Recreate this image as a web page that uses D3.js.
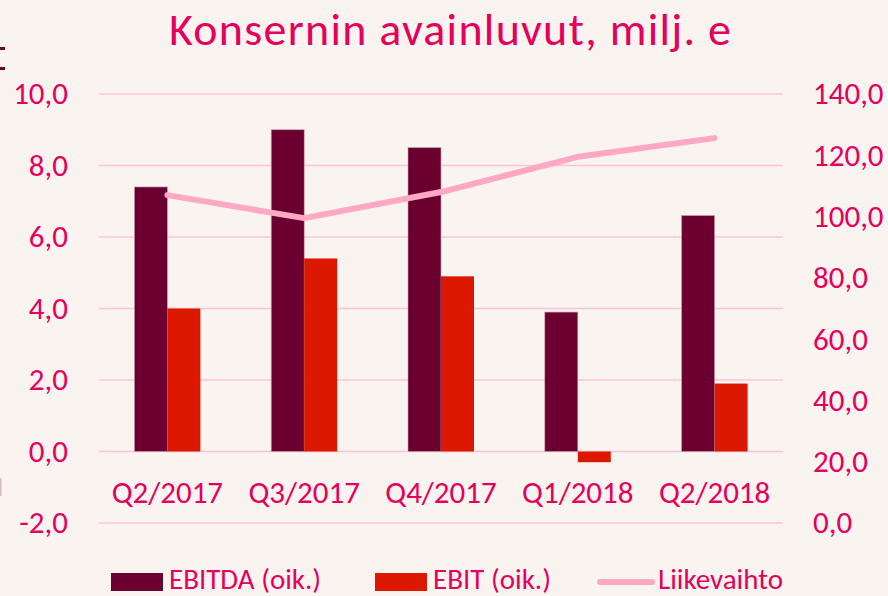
<!DOCTYPE html>
<html>
<head>
<meta charset="utf-8">
<script src="https://cdn.jsdelivr.net/npm/d3@7"></script>
<style>
  body { margin: 0; background: #f9f4ef; }
  svg { display: block; font-family: Carlito, Lato, "Liberation Sans", sans-serif; }
</style>
</head>
<body>
<div id="chart"></div>
<script>
// data
let quarters = ["Q2/2017", "Q3/2017", "Q4/2017", "Q1/2018", "Q2/2018"];
let ebitda = [7.4, 9.0, 8.5, 3.9, 6.6];
let ebit = [4.0, 5.4, 4.9, -0.3, 1.9];
let liikevaihto = [107.0, 99.5, 108.0, 119.5, 125.6];
let leftTicks = [-2, 0, 2, 4, 6, 8, 10];
let rightTicks = [0, 20, 40, 60, 80, 100, 120, 140];

let pink = "#e5005b";
let colEbitda = "#6b0030";
let colEbit = "#dd1800";
let colLine = "#ffa8c6";

let W = 888, H = 596;
let margin = {top: 94, right: 105, bottom: 73, left: 99};
let width = W - margin.left - margin.right;
let height = H - margin.top - margin.bottom;

let svg = d3.select("#chart").append("svg")
    .attr("width", W)
    .attr("height", H);

svg.append("rect").attr("width", W).attr("height", H).attr("fill", "#f9f4ef");

// leftover slide bits cut off at the left edge
svg.append("rect").attr("x", 0).attr("y", 47).attr("width", 5).attr("height", 3).attr("fill", colEbitda);
svg.append("rect").attr("x", 0).attr("y", 67).attr("width", 5).attr("height", 3).attr("fill", colEbitda);
svg.append("rect")
    .attr("x", 0).attr("y", 478)
    .attr("width", 1.5).attr("height", 18)
    .attr("fill", "#d9bcc4");

svg.append("text")
    .attr("x", W / 2 + 6).attr("y", 45)
    .attr("text-anchor", "middle")
    .attr("font-size", 46)
    .attr("textLength", 562)
    .attr("lengthAdjust", "spacing")
    .attr("fill", pink)
    .text("Konsernin avainluvut, milj. e");

let g = svg.append("g")
    .attr("transform", `translate(${margin.left},${margin.top})`);

let x = d3.scaleBand().domain(quarters).range([0, width]);
let xInner = d3.scaleBand().domain(["ebitda", "ebit"])
    .range([x.bandwidth() / 2 - 33, x.bandwidth() / 2 + 33]);
let yL = d3.scaleLinear().domain([-2, 10]).range([height, 0]);
let yR = d3.scaleLinear().domain([0, 140]).range([height, 0]);

// gridlines
g.selectAll(".grid")
    .data(leftTicks)
    .enter().append("line")
    .attr("class", "grid")
    .attr("x1", 0).attr("x2", width)
    .attr("y1", d => yL(d)).attr("y2", d => yL(d))
    .attr("stroke", "#ffc3d6")
    .attr("stroke-width", 1.5);

let fmt = d => d.toFixed(1).replace(".", ",");

let leftAxis = d3.axisLeft(yL).tickValues(leftTicks).tickFormat(fmt).tickSize(0).tickPadding(31);
let rightAxis = d3.axisRight(yR).tickValues(rightTicks).tickFormat(fmt).tickSize(0).tickPadding(30);

let la = g.append("g").call(leftAxis);
let ra = g.append("g").attr("transform", `translate(${width},0)`).call(rightAxis);
[la, ra].forEach(a => {
    a.select(".domain").remove();
    a.selectAll("text").attr("font-size", 31).attr("fill", pink)
        .attr("font-family", "Carlito, Lato, 'Liberation Sans', sans-serif");
});

// category labels just below the zero line
g.selectAll(".xlab")
    .data(quarters)
    .enter().append("text")
    .attr("class", "xlab")
    .attr("x", d => x(d) + x.bandwidth() / 2)
    .attr("y", yL(0) + 51)
    .attr("text-anchor", "middle")
    .attr("font-size", 31)
    .attr("fill", pink)
    .text(d => d);

// bars
let groups = g.selectAll(".cat")
    .data(quarters)
    .enter().append("g")
    .attr("transform", d => `translate(${x(d)},0)`);

groups.append("rect")
    .attr("x", xInner("ebitda"))
    .attr("width", xInner.bandwidth())
    .attr("y", (d, i) => yL(Math.max(0, ebitda[i])))
    .attr("height", (d, i) => Math.abs(yL(ebitda[i]) - yL(0)))
    .attr("fill", colEbitda)
    .attr("stroke", "#c9a0b0").attr("stroke-width", 0.6);

groups.append("rect")
    .attr("x", xInner("ebit"))
    .attr("width", xInner.bandwidth())
    .attr("y", (d, i) => yL(Math.max(0, ebit[i])))
    .attr("height", (d, i) => Math.abs(yL(ebit[i]) - yL(0)))
    .attr("fill", colEbit);

// revenue line on right axis
let line = d3.line()
    .x((d, i) => x(quarters[i]) + x.bandwidth() / 2)
    .y(d => yR(d));

g.append("path")
    .datum(liikevaihto)
    .attr("d", line)
    .attr("fill", "none")
    .attr("stroke", colLine)
    .attr("stroke-width", 6)
    .attr("stroke-linecap", "round")
    .attr("stroke-linejoin", "round");

// legend
let legend = svg.append("g").attr("transform", "translate(0,581)");
let items = [
    {name: "EBITDA (oik.)", type: "rect", color: colEbitda, x: 111},
    {name: "EBIT (oik.)", type: "rect", color: colEbit, x: 375},
    {name: "Liikevaihto", type: "line", color: colLine, x: 600}
];
items.forEach(it => {
    if (it.type === "rect") {
        legend.append("rect")
            .attr("x", it.x).attr("y", -8)
            .attr("width", 52).attr("height", 18)
            .attr("fill", it.color);
    } else {
        legend.append("line")
            .attr("x1", it.x).attr("x2", it.x + 52)
            .attr("y1", 1).attr("y2", 1)
            .attr("stroke", it.color).attr("stroke-width", 6)
            .attr("stroke-linecap", "round");
    }
    legend.append("text")
        .attr("x", it.x + 58).attr("y", 8)
        .attr("font-size", 29)
        .attr("fill", pink)
        .text(it.name);
});
</script>
</body>
</html>
